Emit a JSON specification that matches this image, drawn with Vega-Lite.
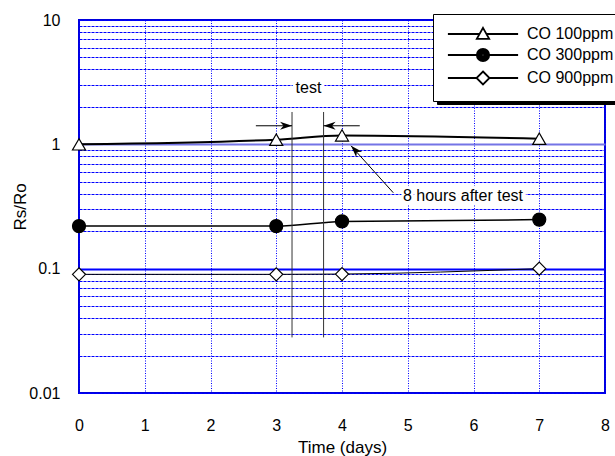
{
  "$schema": "https://vega.github.io/schema/vega-lite/v6.json",
  "width": 526,
  "height": 373,
  "autosize": {"type": "none"},
  "padding": {"left": 79, "top": 20, "right": 10, "bottom": 63},
  "background": "white",
  "config": {
    "font": "Liberation Sans",
    "view": {"stroke": "#0000dd", "strokeWidth": 2},
    "axis": {"labelFont": "Liberation Sans", "titleFont": "Liberation Sans", "labelFontSize": 16, "titleFontSize": 16, "titleFontWeight": "normal", "labelColor": "black", "titleColor": "black", "labelFlush": false}
  },
  "datasets": {
    "series": [
      {"day": 0, "rs": 1.0, "series": "CO 100ppm"},
      {"day": 3, "rs": 1.09, "series": "CO 100ppm"},
      {"day": 4, "rs": 1.18, "series": "CO 100ppm"},
      {"day": 7, "rs": 1.11, "series": "CO 100ppm"},
      {"day": 0, "rs": 0.22, "series": "CO 300ppm"},
      {"day": 3, "rs": 0.22, "series": "CO 300ppm"},
      {"day": 4, "rs": 0.24, "series": "CO 300ppm"},
      {"day": 7, "rs": 0.248, "series": "CO 300ppm"},
      {"day": 0, "rs": 0.09, "series": "CO 900ppm"},
      {"day": 3, "rs": 0.09, "series": "CO 900ppm"},
      {"day": 4, "rs": 0.0905, "series": "CO 900ppm"},
      {"day": 7, "rs": 0.1, "series": "CO 900ppm"}
    ],
    "vlines": [
      {"day": 3.24, "top": 1.82, "bottom": 0.028},
      {"day": 3.72, "top": 1.82, "bottom": 0.028}
    ],
    "shafts": [
      {"name": "left", "x1": 2.69, "y1": 1.41, "x2": 3.24, "y2": 1.41},
      {"name": "right", "x1": 4.27, "y1": 1.41, "x2": 3.72, "y2": 1.41},
      {"name": "diag", "x1": 4.78, "y1": 0.408, "x2": 4.137, "y2": 0.973}
    ],
    "labels": [
      {"day": 3.49, "rs": 2.84, "text": "test"},
      {"day": 5.84, "rs": 0.386, "text": "8 hours after test"}
    ]
  },
  "layer": [
    {
      "data": {"name": "series"},
      "mark": {"type": "line", "color": "black", "interpolate": "monotone"},
      "encoding": {
        "x": {"field": "day", "type": "quantitative", "scale": {"domain": [0, 8], "nice": false},
          "axis": {"values": [0, 1, 2, 3, 4, 5, 6, 7, 8], "format": "d", "title": "Time (days)", "grid": true, "gridColor": "#0000ff", "gridDash": [1, 1.5], "gridWidth": 1, "ticks": false, "domain": false, "labelPadding": 24, "titlePadding": 6, "titleFontSize": 17}},
        "y": {"field": "rs", "type": "quantitative", "scale": {"type": "log", "domain": [0.01, 10], "nice": false},
          "axis": {"values": [0.01, 0.02, 0.03, 0.04, 0.05, 0.06, 0.07, 0.08, 0.09, 0.1, 0.2, 0.3, 0.4, 0.5, 0.6, 0.7, 0.8, 0.9, 1, 2, 3, 4, 5, 6, 7, 8, 9, 10],
            "labelExpr": "(datum.value == 0.01 || datum.value == 0.1 || datum.value == 1 || datum.value == 10) ? '' + datum.value : ''",
            "title": "Rs/Ro", "grid": true, "ticks": false, "domain": false, "labelPadding": 19, "titlePadding": -1, "titleFontSize": 17,
            "gridColor": {"condition": {"test": "datum.value == 1", "value": "#7474e6"}, "value": "#0000ff"},
            "gridWidth": {"condition": {"test": "datum.value == 1 || datum.value == 0.1", "value": 2}, "value": 1},
            "gridDash": {"condition": {"test": "datum.value == 1 || datum.value == 0.1", "value": []}, "value": [3, 1]}}},
        "detail": {"field": "series"},
        "strokeWidth": {"field": "series", "type": "nominal", "scale": {"domain": ["CO 100ppm", "CO 300ppm", "CO 900ppm"], "range": [2, 1, 2.5]}, "legend": null}
      }
    },
    {
      "data": {"name": "vlines"},
      "mark": {"type": "rule", "color": "#333333", "strokeWidth": 1},
      "encoding": {
        "x": {"field": "day", "type": "quantitative"},
        "y": {"field": "top", "type": "quantitative"},
        "y2": {"field": "bottom"}
      }
    },
    {
      "data": {"name": "shafts"},
      "mark": {"type": "rule", "color": "black", "strokeWidth": 1},
      "encoding": {
        "x": {"field": "x1", "type": "quantitative"},
        "x2": {"field": "x2"},
        "y": {"field": "y1", "type": "quantitative"},
        "y2": {"field": "y2"}
      }
    },
    {
      "data": {"name": "shafts"},
      "transform": [{"filter": "datum.name == 'left'"}],
      "mark": {"type": "point", "shape": "M0,0L-2.4,-0.8L-1.7,0L-2.4,0.8Z", "filled": true, "color": "black", "size": 100, "strokeWidth": 0, "opacity": 1},
      "encoding": {"x": {"field": "x2", "type": "quantitative"}, "y": {"field": "y2", "type": "quantitative"}}
    },
    {
      "data": {"name": "shafts"},
      "transform": [{"filter": "datum.name == 'right'"}],
      "mark": {"type": "point", "shape": "M0,0L2.4,-0.8L1.7,0L2.4,0.8Z", "filled": true, "color": "black", "size": 100, "strokeWidth": 0, "opacity": 1},
      "encoding": {"x": {"field": "x2", "type": "quantitative"}, "y": {"field": "y2", "type": "quantitative"}}
    },
    {
      "data": {"name": "shafts"},
      "transform": [{"filter": "datum.name == 'diag'"}],
      "mark": {"type": "point", "shape": "M0,0L0.8,2.4L0,1.7L-0.8,2.4Z", "angle": 317, "filled": true, "color": "black", "size": 100, "strokeWidth": 0, "opacity": 1},
      "encoding": {"x": {"field": "x2", "type": "quantitative"}, "y": {"field": "y2", "type": "quantitative"}}
    },
    {
      "data": {"name": "labels"},
      "mark": {"type": "text", "font": "Liberation Sans", "fontSize": 16, "stroke": "white", "strokeWidth": 6, "fill": "white", "align": "center", "baseline": "middle"},
      "encoding": {"x": {"field": "day", "type": "quantitative"}, "y": {"field": "rs", "type": "quantitative"}, "text": {"field": "text"}}
    },
    {
      "data": {"name": "labels"},
      "mark": {"type": "text", "font": "Liberation Sans", "fontSize": 16, "color": "black", "align": "center", "baseline": "middle"},
      "encoding": {"x": {"field": "day", "type": "quantitative"}, "y": {"field": "rs", "type": "quantitative"}, "text": {"field": "text"}}
    },
    {
      "data": {"name": "series"},
      "mark": {"type": "point", "stroke": "black", "strokeWidth": 1.2, "size": 170, "opacity": 1},
      "encoding": {
        "x": {"field": "day", "type": "quantitative"},
        "y": {"field": "rs", "type": "quantitative"},
        "shape": {"field": "series", "type": "nominal", "scale": {"domain": ["CO 100ppm", "CO 300ppm", "CO 900ppm"], "range": ["triangle-up", "circle", "diamond"]}, "legend": null},
        "fill": {"field": "series", "type": "nominal", "scale": {"domain": ["CO 100ppm", "CO 300ppm", "CO 900ppm"], "range": ["white", "black", "white"]}, "legend": null}
      }
    },
    {
      "data": {"name": "series"},
      "transform": [{"filter": "datum.day < 0"}],
      "mark": {"type": "point", "stroke": "black", "strokeWidth": 1.5, "size": 169, "opacity": 1},
      "encoding": {
        "size": {"field": "series", "type": "ordinal",
          "scale": {"domain": ["CO 100ppm", "CO 300ppm", "CO 900ppm"], "range": [169, 169, 169]},
          "legend": {"title": null, "orient": "none", "legendX": 358, "legendY": -2, "padding": 12, "rowPadding": 2,
            "strokeColor": "black", "fillColor": "black", "symbolOffset": 30, "labelOffset": 130, "labelFontSize": 16, "labelFont": "Liberation Sans", "labelColor": "black",
            "labelExpr": "' '",
            "symbolLimit": 0,
            "encode": {"symbols": {"opacity": {"value": 0}}}}}
      }
    },
    {
      "data": {"name": "series"},
      "transform": [{"filter": "datum.day < 0"}],
      "mark": {"type": "point", "stroke": "black", "strokeWidth": 1.5, "size": 169, "opacity": 1},
      "encoding": {
        "shape": {"field": "series", "type": "nominal",
          "scale": {"domain": ["CO 100ppm", "CO 300ppm", "CO 900ppm"], "range": [
            "M-5.4,0H-0.55M0.55,0H5.4M0,-0.95L0.95,0.75L-0.95,0.75Z",
            "M-5.4,0H-1M1,0H5.4M0.95,0A0.95,0.95 0 1,1 -0.95,0A0.95,0.95 0 1,1 0.95,0M0.72,0A0.72,0.72 0 1,1 -0.72,0A0.72,0.72 0 1,1 0.72,0M0.5,0A0.5,0.5 0 1,1 -0.5,0A0.5,0.5 0 1,1 0.5,0M0.28,0A0.28,0.28 0 1,1 -0.28,0A0.28,0.28 0 1,1 0.28,0M0.08,0A0.08,0.08 0 1,1 -0.08,0A0.08,0.08 0 1,1 0.08,0",
            "M-5.4,0H-1M1,0H5.4M0,-1L1,0L0,1L-1,0Z"]},
          "legend": {"title": null, "orient": "none", "legendX": 354, "legendY": -6, "padding": 12, "rowPadding": 2,
            "strokeColor": "black", "fillColor": "white", "symbolOffset": 30, "labelOffset": 36, "labelFontSize": 16, "labelFont": "Liberation Sans", "labelColor": "black",
            "symbolSize": 169, "symbolStrokeColor": "black", "symbolStrokeWidth": 1.8, "symbolFillColor": "white", "symbolLimit": 0,
            "encode": {
              "symbols": {"stroke": {"value": "black"}, "opacity": {"value": 1}},
              "legend": {"strokeWidth": {"value": 2}}
            }}}
      }
    }
  ],
  "resolve": {"scale": {"shape": "independent", "fill": "independent", "size": "independent"}}
}
